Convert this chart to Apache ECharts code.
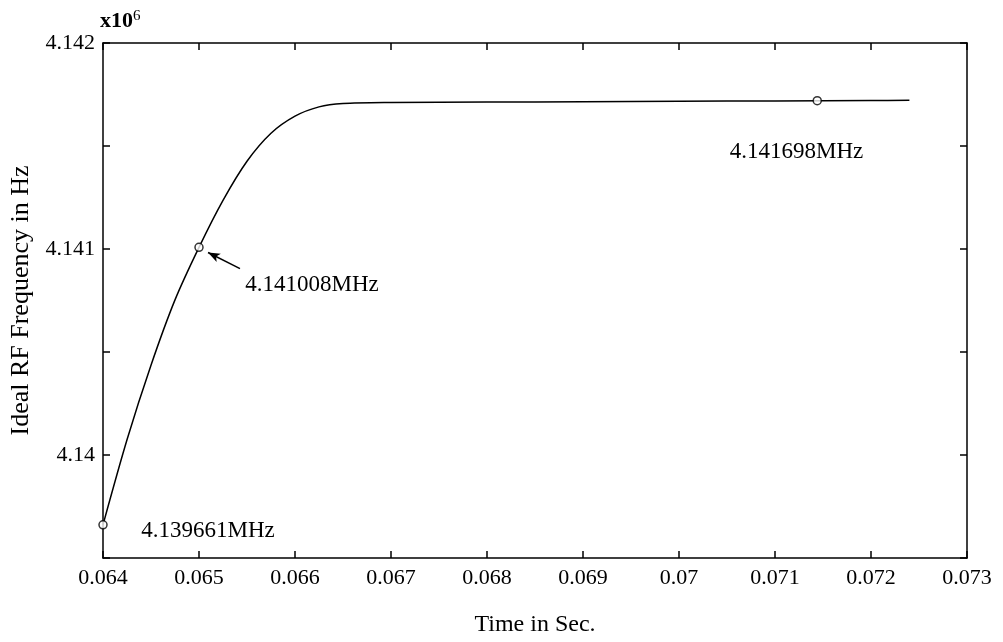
<!DOCTYPE html>
<html>
<head>
<meta charset="utf-8">
<script src="https://cdn.jsdelivr.net/npm/echarts@6/dist/echarts.min.js"></script>
<style>
html,body{margin:0;padding:0;background:#fff;}
#chart{width:1003px;height:642px;}
</style>
</head>
<body>
<div id="chart"></div>
<script>
// ---- data (frequency in units of 10^6 Hz) ----
var times = [0.064, 0.06425, 0.0645, 0.06475, 0.065, 0.06525, 0.0655, 0.06575, 0.066, 0.06625, 0.0665, 0.067, 0.068, 0.069, 0.070, 0.071, 0.072, 0.0724];
var freqs = [4.139661, 4.140074, 4.140436, 4.140753, 4.141008, 4.141236, 4.141426, 4.141562, 4.141645, 4.141690, 4.141706, 4.141711, 4.141713, 4.141715, 4.141717, 4.141719, 4.141721, 4.141722];
var markerTimes = [0.064, 0.065, 0.07144];
var markerFreqs = [4.139661, 4.141008, 4.141720];
var markerLabels = ['4.139661MHz', '4.141008MHz', '4.141698MHz'];
var arrowFrom = [0.065427, 4.140905];
var arrowTo = [0.065094, 4.140983];
var xTicks = [0.064, 0.065, 0.066, 0.067, 0.068, 0.069, 0.07, 0.071, 0.072, 0.073];
var yLabelTicks = [4.14, 4.141, 4.142];

var FONT = '"Liberation Serif", "Times New Roman", serif';
var chart = echarts.init(document.getElementById('chart'));

var lineData = times.map(function (t, i) { return [t, freqs[i]]; });
var placements = [
  {position: [43, 11], align: 'left'},
  {position: [51, 42], align: 'left'},
  {position: [-16, 56], align: 'center'}
];
var markerData = markerTimes.map(function (t, i) {
  return {
    value: [t, markerFreqs[i]],
    label: {
      show: true,
      formatter: markerLabels[i],
      position: placements[i].position,
      align: placements[i].align,
      verticalAlign: 'middle',
      fontFamily: FONT, fontSize: 23, color: '#000',
      textBorderWidth: 0, opacity: 1
    }
  };
});

function yFmt(v) {
  for (var i = 0; i < yLabelTicks.length; i++) {
    if (Math.abs(v - yLabelTicks[i]) < 1e-7) return String(yLabelTicks[i]);
  }
  return '';
}
function xFmt(v) {
  for (var i = 0; i < xTicks.length; i++) {
    if (Math.abs(v - xTicks[i]) < 1e-7) return String(xTicks[i]);
  }
  return '';
}

var axisLine = {show: true, lineStyle: {color: '#000', width: 1.5}};
var axisTick = {show: true, inside: true, length: 7, lineStyle: {color: '#000', width: 1.5}};

var option = {
  backgroundColor: '#fff',
  animation: false,
  grid: {left: 103, right: 36, top: 43, bottom: 84, containLabel: false},
  xAxis: [{
    type: 'value', min: 0.064, max: 0.073, interval: 0.001,
    axisLine: axisLine, axisTick: axisTick, splitLine: {show: false},
    axisLabel: {formatter: xFmt, fontFamily: FONT, fontSize: 22, color: '#000', margin: 9},
    name: 'Time in Sec.', nameLocation: 'middle', nameGap: 55,
    nameTextStyle: {fontFamily: FONT, fontSize: 24, color: '#000'}
  }, {
    type: 'value', position: 'top', min: 0.064, max: 0.073, interval: 0.001,
    axisLine: axisLine, axisTick: axisTick, splitLine: {show: false},
    axisLabel: {show: false}
  }],
  yAxis: [{
    type: 'value', min: 4.1395, max: 4.142, interval: 0.0005,
    axisLine: axisLine, axisTick: axisTick, splitLine: {show: false},
    axisLabel: {formatter: yFmt, fontFamily: FONT, fontSize: 22, color: '#000', margin: 8},
    name: 'Ideal RF Frequency in Hz', nameLocation: 'middle', nameGap: 63, nameRotate: 90,
    nameTextStyle: {fontFamily: FONT, fontSize: 26, color: '#000'}
  }, {
    type: 'value', position: 'right', min: 4.1395, max: 4.142, interval: 0.0005,
    axisLine: axisLine, axisTick: axisTick, splitLine: {show: false},
    axisLabel: {show: false}
  }],
  graphic: [{
    type: 'text', left: 100, top: 9,
    style: {
      text: '{b|x10}{s|6}',
      rich: {
        b: {fontFamily: FONT, fontSize: 22, fontWeight: 'bold', fill: '#000'},
        s: {fontFamily: FONT, fontSize: 15, fill: '#000', verticalAlign: 'top', padding: [0, 0, 10, 0]}
      }
    }
  }],
  series: [{
    type: 'line', data: lineData, showSymbol: false, smooth: 0.3,
    lineStyle: {color: '#000', width: 1.5}, silent: true, z: 2,
    markLine: {
      silent: true, symbol: ['none', 'arrow'], symbolSize: [7, 12],
      lineStyle: {color: '#000', width: 1.5, type: 'solid'},
      label: {show: false},
      data: [[{coord: arrowFrom}, {coord: arrowTo}]]
    }
  }, {
    type: 'scatter', data: markerData, symbol: 'circle', symbolSize: 8,
    itemStyle: {color: '#fff', borderColor: '#000', borderWidth: 1.5}, z: 3
  }]
};
chart.setOption(option);
</script>
</body>
</html>
